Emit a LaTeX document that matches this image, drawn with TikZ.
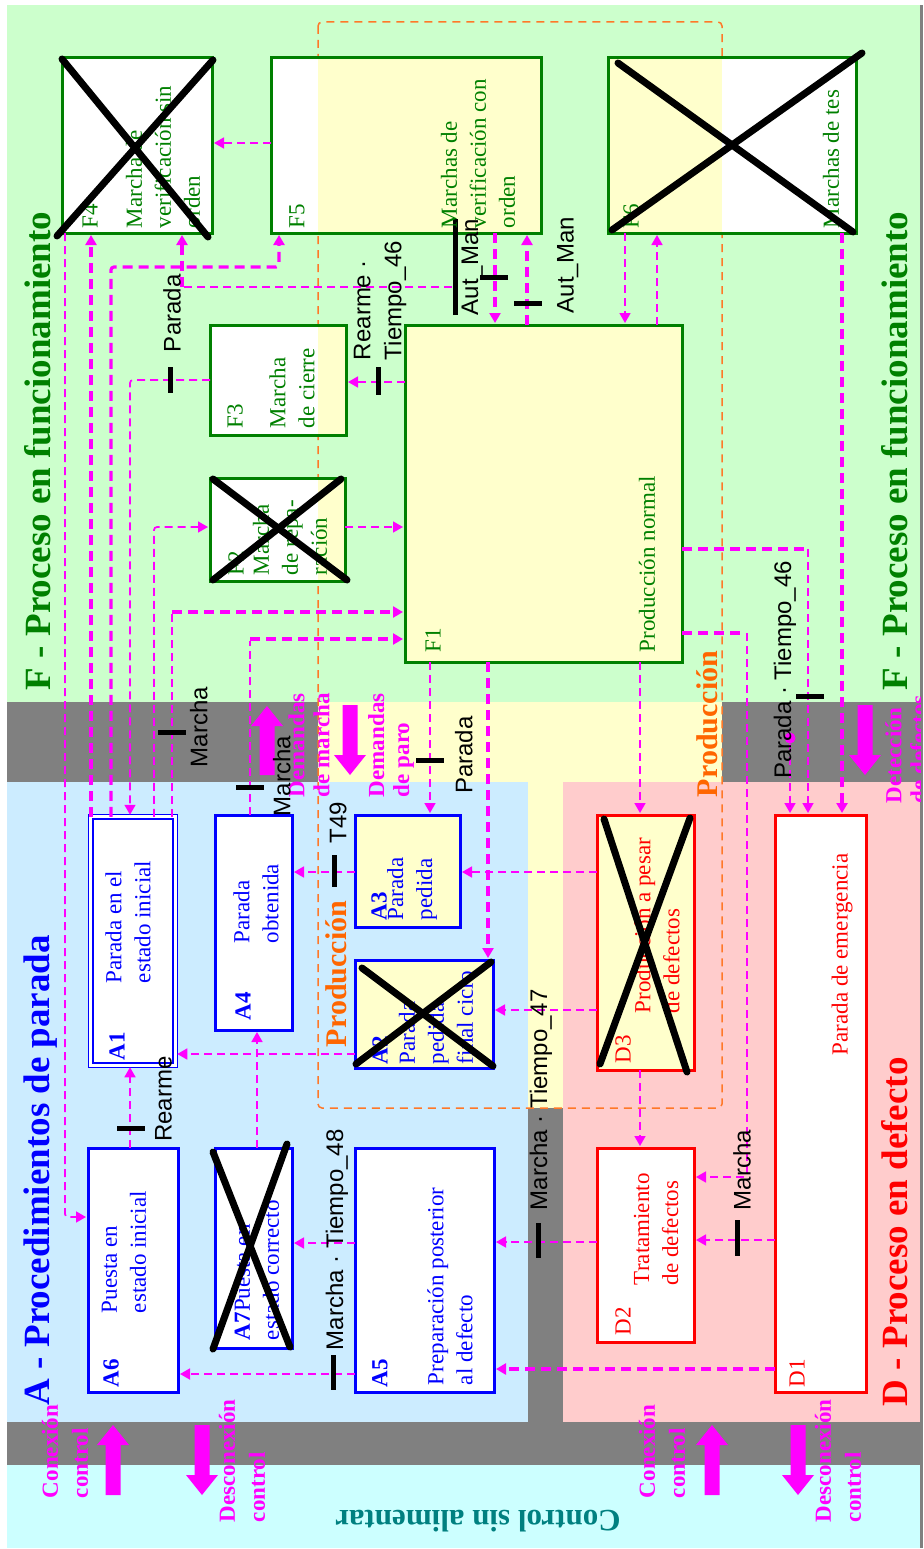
\documentclass[tikz,border=0pt]{standalone}
\usepackage{fontspec}
\setmainfont{Liberation Serif}
\newfontfamily\lsans{Liberation Sans}
\usetikzlibrary{arrows.meta}
\definecolor{bggreen}{RGB}{204,255,204}
\definecolor{bgblue}{RGB}{204,236,255}
\definecolor{bgpink}{RGB}{255,204,204}
\definecolor{bgcyan}{RGB}{204,255,255}
\definecolor{bggrey}{RGB}{128,128,128}
\definecolor{prody}{RGB}{255,255,204}
\definecolor{fgreen}{RGB}{0,128,0}
\definecolor{ablue}{RGB}{0,0,255}
\definecolor{dred}{RGB}{255,0,0}
\definecolor{mag}{RGB}{255,0,255}
\definecolor{orng}{RGB}{255,102,0}
\definecolor{orngd}{RGB}{255,120,40}
\definecolor{tealc}{RGB}{0,128,128}
\newcommand\gBx{\fontsize{23}{29}\selectfont}
\newcommand\gLb{\lsans\fontsize{24}{31}\selectfont}
\newcommand\gTt{\bfseries\fontsize{37}{40}\selectfont}
\newcommand\gMg{\bfseries\fontsize{23}{30}\selectfont}
\newcommand\gMgT{\bfseries\fontsize{23}{25}\selectfont}
\newcommand\gPr{\bfseries\fontsize{30}{32}\selectfont}
\newcommand\gCt{\bfseries\fontsize{31}{34}\selectfont}
\newcommand\gOver[1]{\vbox{\hrule height 5pt\kern 4pt\hbox{#1}}}
\newcommand\gUp[3]{\fill[mag] ({#1-7.5},#3) -- ({#1-7.5},{#2+20}) -- ({#1-16},{#2+20}) -- (#1,#2) -- ({#1+16},{#2+20}) -- ({#1+7.5},{#2+20}) -- ({#1+7.5},#3) -- cycle;}
\newcommand\gDn[3]{\fill[mag] ({#1-7.5},#2) -- ({#1-7.5},{#3-20}) -- ({#1-16},{#3-20}) -- (#1,#3) -- ({#1+16},{#3-20}) -- ({#1+7.5},{#3-20}) -- ({#1+7.5},#2) -- cycle;}
\begin{document}
\begin{tikzpicture}[x=1pt,y=-1pt,
  every node/.style={inner sep=0pt,outer sep=0pt},
  fbx/.style={draw=fgreen,line width=3pt},
  abx/.style={draw=ablue,line width=3pt},
  dbx/.style={draw=dred,line width=3pt},
  xl/.style={line width=7pt,line cap=round,black},
  thn/.style={draw=mag,line width=1.7pt,dash pattern=on 8pt off 5pt,rounded corners=3pt,-{Triangle[length=10pt,width=11pt]},shorten >=2pt},
  thk/.style={thn,line width=3.2pt,dash pattern=on 10pt off 6pt},
  hbar/.style={fill=black,minimum width=28pt,minimum height=5pt},
  vbar/.style={fill=black,minimum width=5pt,minimum height=30pt},
  btxt/.style={rotate=90,anchor=west,align=left,font=\gBx},
  tl/.style={rotate=90,font=\gLb,text=black},
  ml/.style={rotate=90,anchor=west,align=left,font=\gMg,text=mag},
  tt/.style={rotate=90,anchor=west,font=\gTt},
  pl/.style={rotate=90,anchor=west,font=\gPr,text=orng}]
\useasboundingbox (0,0) rectangle (923,1549);
% backgrounds
\fill[white] (0,0) rectangle (923,1549);
\fill[bggrey] (7,5) rectangle (923,1548);
\fill[prody] (318,22) rectangle (722,1108);
\fill[bggreen] (7,5) rectangle (920,702);
\fill[bgblue] (7,782) rectangle (528,1422);
\fill[bgpink] (563,782) rectangle (920,1422);
\fill[bgcyan] (7,1465) rectangle (920,1548);
\draw[orngd,line width=1.5pt,dash pattern=on 8pt off 6pt,rounded corners=4pt] (318,22) rectangle (722,1108);
% titles
\node[tt,text=fgreen] (TF1) at (38,690) {F - Proceso en funcionamiento};
\node[tt,text=fgreen] (TF2) at (895,690) {F - Proceso en funcionamiento};
\node[tt,text=ablue] (TA) at (41,1405) {A - Procedimientos de parada};
\node[tt,text=dred] (TD) at (895,1406) {D - Proceso en defecto};
\node[rotate=180,font=\gCt,text=tealc] (CS) at (478,1521) {Control sin alimentar};
\node[pl] (P1) at (336,1047) {Producción};
\node[pl] (P2) at (707,797) {Producción};
% big arrows
\gUp{267}{706}{775}
\gDn{350}{705}{775}
\gDn{865}{705}{775}
\gUp{113}{1425}{1495}
\gUp{712}{1425}{1495}
\gDn{202}{1425}{1495}
\gDn{798}{1425}{1495}
% magenta labels
\node[ml] (M1) at (65,1498) {Conexión\\control};
\node[ml] (M2) at (242,1522) {Desconexión\\control};
\node[ml] (M3) at (662,1498) {Conexión\\control};
\node[ml] (M4) at (838,1522) {Desconexión\\control};
\node[ml,font=\gMgT] (M5) at (309,797) {Demandas\\de marcha};
\node[ml,font=\gMgT] (M6) at (391,797) {Demandas\\de paro};
\begin{scope}
\clip (0,0) rectangle (920,1549);
\node[ml,font=\gMgT] (M7) at (906,803) {Detección\\de defectos};
\end{scope}
% box fills
\fill[white] (271,58) rectangle (318,233); \fill[prody] (318,58) rectangle (541,233);
\fill[white] (210,325) rectangle (318,435); \fill[prody] (318,325) rectangle (346,435);
\fill[white] (210,478) rectangle (318,581); \fill[prody] (318,478) rectangle (345,581);
\fill[prody] (608,58) rectangle (722,233); \fill[white] (722,58) rectangle (856,233);
% boxes
\node[fbx,fill=white,minimum width=150,minimum height=175] (F4) at (137,145.5) {};
\node[fbx,minimum width=270,minimum height=175] (F5) at (406,145.5) {};
\node[fbx,minimum width=248,minimum height=175] (F6) at (732,145.5) {};
\node[fbx,minimum width=136,minimum height=110] (F3) at (278,380) {};
\node[fbx,minimum width=135,minimum height=103] (F2) at (277.5,529.5) {};
\node[fbx,fill=prody,minimum width=277,minimum height=337] (F1) at (543.5,493.5) {};
\node[draw=ablue,line width=1.5pt,double=white,double distance=3pt,fill=white,minimum width=84.5,minimum height=248.5] (A1) at (133,941) {};
\node[abx,fill=white,minimum width=77,minimum height=215] (A4) at (253.5,922.5) {};
\node[abx,fill=prody,minimum width=105,minimum height=112] (A3) at (407.5,871) {};
\node[abx,fill=prody,minimum width=138,minimum height=108] (A2) at (424,1014) {};
\node[abx,fill=white,minimum width=90,minimum height=244] (A6) at (133,1270) {};
\node[abx,fill=white,minimum width=77,minimum height=200] (A7) at (253.5,1248) {};
\node[abx,fill=white,minimum width=139,minimum height=244] (A5) at (424.5,1270) {};
\node[dbx,fill=prody,minimum width=97,minimum height=255] (D3) at (645.5,942.5) {};
\node[dbx,fill=white,minimum width=97,minimum height=194] (D2) at (645.5,1245) {};
\node[dbx,fill=white,minimum width=91,minimum height=577] (D1) at (820.5,1103.5) {};
% connectors
\draw[thn] (F5.west |- 0,143) -- (F4.east |- 0,143);
\draw[thn] (65,0 |- F4.south) -- (65,1217) -- (A6.west |- 0,1217);
\draw[thk] (91,0 |- A1.north) -- (91,0 |- F4.south);
\draw[thk] (111,0 |- A1.north) -- (111,267) -- (279,267) -- (279,0 |- F5.south);
\draw[thn] (F3.west |- 0,380) -- (130,380) -- (130,0 |- A1.north);
\draw[thn] (154,0 |- A1.north) -- (154,527) -- (F2.west |- 0,527);
\coordinate (k7) at (172,612);
\draw[thn,-] (172,0 |- A1.north) -- (k7);
\draw[thk] (k7) -- (k7 -| F1.west);
\coordinate (k8) at (250,639);
\draw[thn,-] (250,0 |- A4.north) -- (k8);
\draw[thk] (k8) -- (k8 -| F1.west);
\draw[thn] (F2.east |- 0,527) -- (F1.west |- 0,527);
\draw[thn] (F1.west |- 0,382) -- (F3.east |- 0,382);
\coordinate (k11) at (452,287);
\coordinate (k11b) at (182,287);
\draw[thn,-] (k11) -- (k11b);
\draw[thk] (k11b) -- (k11b |- F4.south);
\draw[thk] (495,0 |- F5.south) -- (495,0 |- F1.north);
\draw[thk] (527,0 |- F1.north) -- (527,0 |- F5.south);
\draw[thn] (625,0 |- F6.south) -- (625,0 |- F1.north);
\draw[thn] (657,0 |- F1.north) -- (657,0 |- F6.south);
\draw[thk] (842,0 |- F6.south) -- (842,0 |- D1.north);
\coordinate (k17) at (808,549);
\draw[thk,-] (F1.east |- k17) -- (k17);
\draw[thn] (k17) -- (k17 |- D1.north);
\coordinate (k18) at (747,633);
\draw[thk,-] (F1.east |- k18) -- (k18);
\draw[thn] (k18) -- (747,1177) -- (D2.east |- 0,1177);
\node[circle,fill=mag,minimum size=11pt] (dot) at (790,738) {};
\draw[thn] (dot) -- (dot |- D1.north);
\draw[thk] (488,0 |- F1.south) -- (488,0 |- A2.north);
\draw[thn] (640,0 |- F1.south) -- (640,0 |- D3.north);
\draw[thn] (430,0 |- F1.south) -- (430,0 |- A3.north);
\draw[thn] (A3.west |- 0,872) -- (A4.east |- 0,872);
\draw[thn] (D3.west |- 0,872) -- (A3.east |- 0,872);
\draw[thn] (D3.west |- 0,1010) -- (A2.east |- 0,1010);
\draw[thn] (640,0 |- D3.south) -- (640,0 |- D2.north);
\draw[thn] (D1.west |- 0,1240) -- (D2.east |- 0,1240);
\draw[thn] (D2.west |- 0,1242) -- (A5.east |- 0,1242);
\draw[thk] (D1.west |- 0,1369) -- (A5.east |- 0,1369);
\draw[thn] (A5.west |- 0,1243) -- (A7.east |- 0,1243);
\draw[thn] (A5.west |- 0,1374) -- (A6.east |- 0,1374);
\draw[thn] (257,0 |- A7.north) -- (257,0 |- A4.south);
\draw[thn] (130,0 |- A6.north) -- (130,0 |- A1.south);
\draw[thn] (A2.west |- 0,1054) -- (A1.east |- 0,1054);
% transition bars
\node[vbar,minimum height=26pt] (b1) at (170,380) {};
\node[hbar] (b2) at (172,732) {};
\node[hbar] (b3) at (250,787) {};
\node[hbar] (b4) at (430,760) {};
\node[vbar,minimum height=32pt] (b5) at (334,871) {};
\node[vbar,minimum height=28pt] (b6) at (378,381) {};
\node[hbar] (b7) at (494,277) {};
\node[hbar] (b8) at (528,303) {};
\node[hbar] (b9) at (810,696) {};
\node[vbar,minimum height=36pt] (b10) at (737,1238) {};
\node[vbar,minimum height=35pt] (b11) at (538,1240) {};
\node[vbar,minimum height=35pt] (b12) at (333,1372) {};
\node[hbar] (b13) at (131,1128) {};
% transition labels
\node[tl,anchor=west] (T1) at (172,352) {Parada};
\node[tl,anchor=north] (T2) at (190,727) {Marcha};
\node[tl,anchor=north] (T3) at (273,776) {Marcha};
\node[tl,anchor=north] (T4) at (455,755) {Parada};
\node[tl,anchor=west] (T5) at (338,843) {T49};
\node[tl,anchor=west,align=left] (T6) at (380,360) {Rearme ·\\Tiempo\_46};
\node[tl,anchor=south] (T7) at (483,267) {\gOver{Aut\_Man}};
\node[tl,anchor=north] (T8) at (557,265) {Aut\_Man};
\node[tl,anchor=south] (T9) at (796,670) {Parada · Tiempo\_46};
\node[tl,anchor=west] (T10) at (742,1210) {Marcha};
\node[tl,anchor=west] (T11) at (541,1210) {Marcha · Tiempo\_47};
\node[tl,anchor=west] (T12) at (337,1350) {Marcha · Tiempo\_48};
\node[tl,anchor=north] (T13) at (155,1099) {Rearme};
% box texts
\node[btxt,text=fgreen] (F4l) at (90,228) {F4};
\node[btxt,text=fgreen] (F4t) at (163,228) {Marcha de\\verificación sin\\orden};
\node[btxt,text=fgreen] (F5l) at (297,228) {F5};
\node[btxt,text=fgreen] (F5t) at (478,228) {Marchas de\\verificación con\\orden};
\node[btxt,text=fgreen] (F6l) at (631,228) {F6};
\node[btxt,text=fgreen] (F6t) at (831,228) {Marchas de tes};
\node[btxt,text=fgreen] (F3l) at (235,428) {F3};
\node[btxt,text=fgreen] (F3t) at (292,428) {Marcha\\de cierre};
\node[btxt,text=fgreen] (F2l) at (236,575) {F2};
\node[btxt,text=fgreen] (F2t) at (290,575) {Marcha\\de repa-\\ración};
\node[btxt,text=fgreen] (F1l) at (433,652) {F1};
\node[btxt,text=fgreen] (F1t) at (647,652) {Producción normal};
\node[btxt,text=ablue] (A1l) at (117,1060) {\textbf{A1}};
\node[btxt,text=ablue] (A1t) at (128,983) {Parada en el\\estado inicial};
\node[btxt,text=ablue] (A4l) at (243,1020) {\textbf{A4}};
\node[btxt,text=ablue] (A4t) at (256,943) {Parada\\obtenida};
\node[btxt,text=ablue] (A3l) at (379,920) {\textbf{A3}};
\node[btxt,text=ablue] (A3t) at (412,920) {Parada\\pedida};
\node[btxt,text=ablue] (A2l) at (380,1064) {\textbf{A2}};
\node[btxt,text=ablue] (A2t) at (436,1064) {Parada\\pedida\\final ciclo};
\node[btxt,text=ablue] (A6l) at (111,1387) {\textbf{A6}};
\node[btxt,text=ablue] (A6t) at (124,1313) {Puesta en\\estado inicial};
\node[btxt,text=ablue] (A7t) at (257,1340) {\textbf{A7}Puesta en\\estado correcto};
\node[btxt,text=ablue] (A5l) at (380,1387) {\textbf{A5}};
\node[btxt,text=ablue] (A5t) at (450,1385) {Preparación posterior\\al defecto};
\node[btxt,text=dred] (D3l) at (623,1063) {D3};
\node[btxt,text=dred] (D3t) at (657,1013) {Producción a pesar\\de defectos};
\node[btxt,text=dred] (D2l) at (623,1335) {D2};
\node[btxt,text=dred] (D2t) at (656,1285) {Tratamiento\\de defectos};
\node[btxt,text=dred] (D1l) at (797,1387) {D1};
\node[btxt,text=dred] (D1t) at (842,1055) {Parada de emergencia};
% crosses
\draw[xl] (62,59) -- (208,237); \draw[xl] (57,236) -- (213,60);
\draw[xl] (618,63) -- (853,232); \draw[xl] (612,230) -- (862,53);
\draw[xl] (213,479) -- (347,580); \draw[xl] (213,580) -- (341,479);
\draw[xl] (362,968) -- (493,1066); \draw[xl] (356,1064) -- (491,962);
\draw[xl] (213,1152) -- (290,1347); \draw[xl] (287,1144) -- (213,1349);
\draw[xl] (604,819) -- (687,1072); \draw[xl] (600,1064) -- (690,818);
\end{tikzpicture}
\end{document}
